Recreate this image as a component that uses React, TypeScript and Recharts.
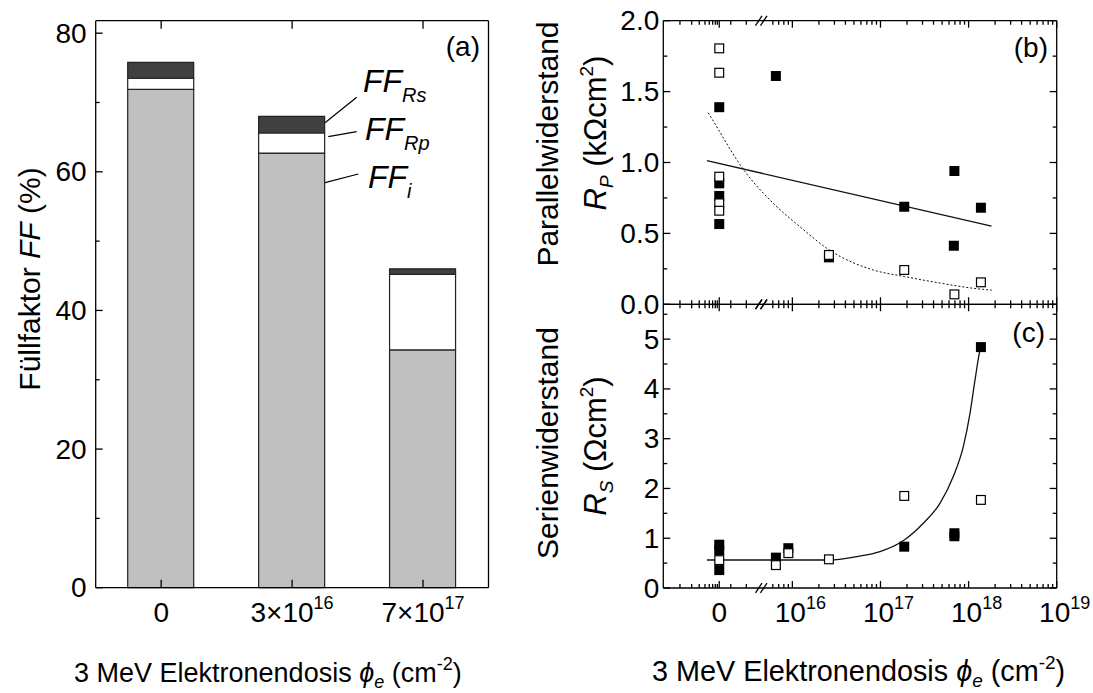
import React from 'react';
import { ComposedChart, Bar, XAxis, YAxis, Scatter, Line, ReferenceLine } from 'recharts';

const FONT = '"Liberation Sans", Arial, Helvetica, sans-serif';
const INK = '#000';
const AXW = 1.3;

// (a) Füllfaktor und seine Verlustanteile je Dosis
const doseLabels = [
  { base: '0', sup: '' },
  { base: '3×10', sup: '16' },
  { base: '7×10', sup: '17' },
];
const ffI = [71.9, 62.7, 34.3];
const ffRp = [1.6, 2.9, 10.9];
const ffRs = [2.3, 2.4, 0.8];
const ffTicks = [0, 10, 20, 30, 40, 50, 60, 70, 80];
const FF_MAX = 81.8;

// (b) Parallelwiderstand (kΩcm²); Dosis in cm^-2, 0 = unbestrahlt
const rpFilledDose = [0, 0, 0, 0, 6.5e15, 2.6e16, 1.86e17, 6.9e17, 6.8e17, 1.38e18];
const rpFilledVal = [1.39, 0.853, 0.764, 0.566, 1.61, 0.331, 0.688, 0.94, 0.413, 0.681];
const rpOpenDose = [0, 0, 0, 0, 0, 2.6e16, 1.86e17, 6.9e17, 1.38e18];
const rpOpenVal = [1.805, 1.633, 0.9, 0.712, 0.66, 0.348, 0.242, 0.07, 0.155];

// Fits in (b), x in Achseneinheiten (log10 der Dosis)
const rpLinPos = [15.03, 18.26];
const rpLinVal = [1.013, 0.552];
const rpExpPos = [15.045, 15.095, 15.443, 15.783, 16.086, 16.419, 16.918, 17.27, 17.675, 18.053, 18.262];
const rpExpVal = [1.351, 1.3, 0.952, 0.712, 0.547, 0.383, 0.242, 0.196, 0.15, 0.113, 0.1];

// (c) Serienwiderstand (Ωcm²)
const rsFilledDose = [0, 0, 0, 6.5e15, 9e15, 1.86e17, 6.9e17, 6.9e17, 1.38e18];
const rsFilledVal = [0.87, 0.76, 0.36, 0.61, 0.8, 0.83, 1.1, 1.04, 4.84];
const rsOpenDose = [0, 6.5e15, 9e15, 2.6e16, 1.86e17, 1.38e18];
const rsOpenVal = [0.56, 0.46, 0.7, 0.576, 1.85, 1.77];

const rsFitPos = [15.03, 16.419, 16.73, 16.994, 17.27, 17.486, 17.675, 17.826, 17.94, 18.016, 18.073, 18.13, 18.141];
const rsFitVal = [0.563, 0.563, 0.63, 0.73, 0.964, 1.3, 1.7, 2.24, 2.84, 3.51, 4.18, 4.78, 4.84];

// gebrochene Dosisachse: Null links vom Bruch, danach logarithmisch
const AX_MIN = 14.535;
const AX_MAX = 19;
const ZERO_POS = 15.17;
const BREAK_POS = 15.647;
const toPos = (d: number) => (d === 0 ? ZERO_POS : Math.log10(d));

const xMajor = [ZERO_POS, 16, 17, 18, 19];
const xMinor = [
  14.724, 14.857, 14.943, 15.008, 15.057, 15.095, 15.125, 15.148,
  ...[2, 3, 6, 7, 8, 9].map((k) => 15 + Math.log10(k)),
  ...[16, 17, 18].flatMap((d) => [2, 3, 4, 5, 6, 7, 8, 9].map((k) => d + Math.log10(k))),
];
const xTicks = [...xMajor, ...xMinor].sort((a, b) => a - b);
const isMajorX = (v: number) => xMajor.some((m) => Math.abs(m - v) < 1e-9);

const rpTicks = [0, 0.25, 0.5, 0.75, 1, 1.25, 1.5, 1.75, 2];
const rsTicks = [0, 0.5, 1, 1.5, 2, 2.5, 3, 3.5, 4, 4.5, 5, 5.5];

const pts = (xs: number[], ys: number[]) => xs.map((x, i) => ({ x, y: ys[i] }));

const ffData = doseLabels.map((l, i) => ({
  name: l.base + l.sup,
  ffI: ffI[i],
  ffRp: ffRp[i],
  ffRs: ffRs[i],
}));

const axisLine = { stroke: INK, strokeWidth: AXW };

// Achsen bekommen 1px Breite/Höhe (0 würde sie ausblenden); die Ränder sind darum je 1px kleiner
const plotMargin = (top: number, right: number, bottom: number, left: number) => ({
  top: top - 1,
  right: right - 1,
  bottom: bottom - 1,
  left: left - 1,
});

const SQ = 10;
const filledSquare = (p: any) => (
  <rect x={p.cx - SQ / 2} y={p.cy - SQ / 2} width={SQ} height={SQ} fill={INK} />
);
const openSquare = (p: any) => (
  <rect x={p.cx - SQ / 2 + 0.6} y={p.cy - SQ / 2 + 0.6} width={SQ - 1.2} height={SQ - 1.2} fill="#fff" stroke={INK} strokeWidth={1.2} />
);

// Ticks zeigen nach innen; Beschriftung nur an Hauptstrichen
function yTick(side: 'left' | 'right', isMajor: (v: number) => boolean, fmt?: (v: number) => string, gap = 5) {
  return (p: any) => {
    const v = Number(p.payload.value);
    const major = isMajor(v);
    const dir = side === 'left' ? 1 : -1;
    return (
      <g>
        <line x1={p.x} y1={p.y} x2={p.x + dir * (major ? 7 : 4)} y2={p.y} stroke={INK} strokeWidth={AXW} />
        {fmt && major && (
          <text x={p.x - gap} y={p.y} textAnchor="end" dominantBaseline="central" fontSize={28} fontFamily={FONT} fill={INK}>
            {fmt(v)}
          </text>
        )}
      </g>
    );
  };
}

function doseTick(side: 'top' | 'bottom', labels: boolean) {
  return (p: any) => {
    const v = Number(p.payload.value);
    const major = isMajorX(v);
    const dir = side === 'bottom' ? -1 : 1;
    const isZero = Math.abs(v - ZERO_POS) < 1e-9;
    return (
      <g>
        <line x1={p.x} y1={p.y} x2={p.x} y2={p.y + dir * (major ? 7 : 4)} stroke={INK} strokeWidth={AXW} />
        {labels && major && (
          <text x={p.x + (isZero ? 0 : 8)} y={p.y + 34} textAnchor="middle" fontSize={28} fontFamily={FONT} fill={INK}>
            {isZero ? '0' : '10'}
            {!isZero && (
              <tspan dy={-13} fontSize={18}>
                {Math.round(v)}
              </tspan>
            )}
          </text>
        )}
      </g>
    );
  };
}

function ffTick(side: 'top' | 'bottom') {
  return (p: any) => {
    const idx = typeof p.index === 'number' ? p.index : ffData.findIndex((d) => d.name === p.payload.value);
    const lab = doseLabels[idx] || { base: '', sup: '' };
    const dir = side === 'bottom' ? -1 : 1;
    return (
      <g>
        <line x1={p.x} y1={p.y} x2={p.x} y2={p.y + dir * 8} stroke={INK} strokeWidth={AXW} />
        {side === 'bottom' && (
          <text x={p.x} y={p.y + 34} textAnchor="middle" fontSize={28} fontFamily={FONT} fill={INK}>
            {lab.base}
            {lab.sup && (
              <tspan dy={-13} fontSize={18}>
                {lab.sup}
              </tspan>
            )}
          </text>
        )}
      </g>
    );
  };
}

function breakMarks(yEdge: number, dy: number) {
  const w = 0.074;
  return [0, 0.057].map((off, i) => (
    <ReferenceLine
      key={`${yEdge}-${i}`}
      segment={[
        { x: BREAK_POS - 0.066 + off, y: yEdge - dy },
        { x: BREAK_POS - 0.066 + off + w, y: yEdge + dy },
      ]}
      stroke={INK}
      strokeWidth={1.3}
      ifOverflow="visible"
    />
  ));
}

function FillFactorChart() {
  return (
    <ComposedChart width={500} height={693} data={ffData} margin={plotMargin(20.7, 11.5, 105.3, 95.7)}>
      <XAxis dataKey="name" height={1} tickSize={0} tickMargin={0} tickLine={false} interval={0} axisLine={axisLine} tick={ffTick('bottom')} />
      <XAxis xAxisId="top" orientation="top" dataKey="name" height={1} tickSize={0} tickMargin={0} tickLine={false} interval={0} axisLine={axisLine} tick={ffTick('top')} />
      <YAxis type="number" domain={[0, FF_MAX]} ticks={ffTicks} interval={0} width={1} tickSize={0} tickMargin={0} tickLine={false} axisLine={axisLine}
        tick={yTick('left', (v) => v % 20 === 0, (v) => String(v), 9)} />
      <YAxis yAxisId="right" orientation="right" type="number" domain={[0, FF_MAX]} ticks={ffTicks} interval={0} width={1} tickSize={0} tickMargin={0} tickLine={false} axisLine={axisLine}
        tick={yTick('right', (v) => v % 20 === 0)} />
      <Bar dataKey="ffI" stackId="ff" barSize={66} fill="#c0c0c0" stroke="#222" strokeWidth={1.2} isAnimationActive={false} />
      <Bar dataKey="ffRp" stackId="ff" barSize={66} fill="#ffffff" stroke="#222" strokeWidth={1.2} isAnimationActive={false} />
      <Bar dataKey="ffRs" stackId="ff" barSize={66} fill="#404040" stroke="#222" strokeWidth={1.2} isAnimationActive={false} />
    </ComposedChart>
  );
}

function DoseChart(props: {
  width: number; height: number; margin: any; yMax: number; yTicks: number[];
  isMajorY: (v: number) => boolean; fmtY: (v: number) => string; showX: boolean;
  filled: { x: number; y: number }[]; open: { x: number; y: number }[];
  fits: { data: { x: number; y: number }[]; dash?: string; type: 'linear' | 'monotone' }[];
  breakDy: number;
}) {
  const { yMax } = props;
  return (
    <ComposedChart width={props.width} height={props.height} margin={props.margin}>
      <XAxis type="number" dataKey="x" domain={[AX_MIN, AX_MAX]} allowDataOverflow ticks={xTicks} interval={0} height={1} tickSize={0} tickMargin={0}
        tickLine={false} axisLine={axisLine} tick={doseTick('bottom', props.showX)} />
      <XAxis xAxisId="top" orientation="top" type="number" dataKey="x" domain={[AX_MIN, AX_MAX]} allowDataOverflow ticks={xTicks} interval={0} height={1}
        tickSize={0} tickMargin={0} tickLine={false} axisLine={axisLine} tick={doseTick('top', false)} />
      <YAxis type="number" dataKey="y" domain={[0, yMax]} allowDataOverflow ticks={props.yTicks} interval={0} width={1} tickSize={0} tickMargin={0}
        tickLine={false} axisLine={axisLine} tick={yTick('left', props.isMajorY, props.fmtY, 4)} />
      <YAxis yAxisId="right" orientation="right" type="number" dataKey="y" domain={[0, yMax]} allowDataOverflow ticks={props.yTicks} interval={0} width={1}
        tickSize={0} tickMargin={0} tickLine={false} axisLine={axisLine} tick={yTick('right', props.isMajorY)} />
      {props.fits.map((f, i) => (
        <Line key={i} data={f.data} dataKey="y" type={f.type} stroke="#111" strokeWidth={f.dash ? 1 : 1.3} strokeDasharray={f.dash}
          dot={false} activeDot={false} isAnimationActive={false} />
      ))}
      <Scatter data={props.filled} dataKey="y" shape={filledSquare} isAnimationActive={false} />
      <Scatter data={props.open} dataKey="y" shape={openSquare} isAnimationActive={false} />
      {breakMarks(yMax, props.breakDy)}
      {breakMarks(0, props.breakDy)}
    </ComposedChart>
  );
}

const TXT = { fontFamily: FONT, fill: INK } as const;

function DoseTitle({ x, y, size }: { x: number; y: number; size: number }) {
  const small = Math.round(size * 0.66);
  return (
    <text {...TXT} x={x} y={y} fontSize={size}>
      3 MeV Elektronendosis <tspan fontStyle="italic">ϕ</tspan>
      <tspan fontStyle="italic" fontSize={small} dy={6}>e</tspan>
      <tspan dy={-6}> (cm</tspan>
      <tspan fontSize={small} dy={-12}>-2</tspan>
      <tspan dy={12}>)</tspan>
    </text>
  );
}

export default function App() {
  const rpFilled = pts(rpFilledDose.map(toPos), rpFilledVal);
  const rpOpen = pts(rpOpenDose.map(toPos), rpOpenVal);
  const rsFilled = pts(rsFilledDose.map(toPos), rsFilledVal);
  const rsOpen = pts(rsOpenDose.map(toPos), rsOpenVal);

  return (
    <div style={{ position: 'absolute', left: 0, top: 0, width: 1093, height: 693, background: '#fff', fontFamily: FONT }}>
      <div style={{ position: 'absolute', left: 0, top: 0 }}>
        <FillFactorChart />
      </div>
      <div style={{ position: 'absolute', left: 520, top: 0 }}>
        <DoseChart
          width={573} height={330} margin={plotMargin(20.7, 36.3, 25.7, 143.3)}
          yMax={2} yTicks={rpTicks} isMajorY={(v) => Math.abs(v * 2 - Math.round(v * 2)) < 1e-9} fmtY={(v) => v.toFixed(1)}
          showX={false} filled={rpFilled} open={rpOpen} breakDy={0.034}
          fits={[
            { data: pts(rpLinPos, rpLinVal), type: 'linear' },
            { data: pts(rpExpPos, rpExpVal), type: 'monotone', dash: '2 2' },
          ]}
        />
      </div>
      <div style={{ position: 'absolute', left: 520, top: 290 }}>
        <DoseChart
          width={573} height={403} margin={plotMargin(14.3, 36.3, 105, 143.3)}
          yMax={5.7} yTicks={rsTicks} isMajorY={(v) => Math.abs(v - Math.round(v)) < 1e-9} fmtY={(v) => String(v)}
          showX filled={rsFilled} open={rsOpen} breakDy={0.096}
          fits={[{ data: pts(rsFitPos, rsFitVal), type: 'monotone' }]}
        />
      </div>

      <svg width={1093} height={693} style={{ position: 'absolute', left: 0, top: 0, pointerEvents: 'none' }}>
        {/* Achsentitel (a) */}
        <text {...TXT} x={40} y={279} fontSize={30} textAnchor="middle" transform="rotate(-90 40 279)">
          Füllfaktor <tspan fontStyle="italic">FF</tspan> (%)
        </text>
        <DoseTitle x={74} y={682} size={27} />

        {/* Beschriftung der Verlustanteile */}
        <text {...TXT} x={363} y={92} fontSize={32} fontStyle="italic">
          FF<tspan fontSize={20} dy={10}>Rs</tspan>
        </text>
        <text {...TXT} x={365} y={140} fontSize={32} fontStyle="italic">
          FF<tspan fontSize={20} dy={10}>Rp</tspan>
        </text>
        <text {...TXT} x={368} y={188} fontSize={32} fontStyle="italic">
          FF<tspan fontSize={20} dy={10}>i</tspan>
        </text>
        <line x1={356.7} y1={97.3} x2={325} y2={122.7} stroke={INK} strokeWidth={1.2} />
        <line x1={356.7} y1={131.7} x2={328.3} y2={136.7} stroke={INK} strokeWidth={1.2} />
        <line x1={358.3} y1={174} x2={325} y2={182.7} stroke={INK} strokeWidth={1.2} />

        <text {...TXT} x={480} y={56} fontSize={28} textAnchor="end">(a)</text>
        <text {...TXT} x={1048} y={57} fontSize={28} textAnchor="end">(b)</text>
        <text {...TXT} x={1045} y={342} fontSize={28} textAnchor="end">(c)</text>

        {/* Achsentitel (b) */}
        <text {...TXT} x={558} y={144} fontSize={30} textAnchor="middle" transform="rotate(-90 558 144)">
          Parallelwiderstand
        </text>
        <text {...TXT} x={606} y={133} fontSize={31} textAnchor="middle" transform="rotate(-90 606 133)">
          <tspan fontStyle="italic">R</tspan>
          <tspan fontStyle="italic" fontSize={19} dy={7}>P</tspan>
          <tspan dy={-7}> (kΩcm</tspan>
          <tspan fontSize={19} dy={-13}>2</tspan>
          <tspan dy={13}>)</tspan>
        </text>

        {/* Achsentitel (c) */}
        <text {...TXT} x={558} y={443} fontSize={30} textAnchor="middle" transform="rotate(-90 558 443)">
          Serienwiderstand
        </text>
        <text {...TXT} x={606} y={446} fontSize={31} textAnchor="middle" transform="rotate(-90 606 446)">
          <tspan fontStyle="italic">R</tspan>
          <tspan fontStyle="italic" fontSize={19} dy={7}>S</tspan>
          <tspan dy={-7}> (Ωcm</tspan>
          <tspan fontSize={19} dy={-13}>2</tspan>
          <tspan dy={13}>)</tspan>
        </text>
        <DoseTitle x={652} y={681} size={28.8} />
      </svg>
    </div>
  );
}
